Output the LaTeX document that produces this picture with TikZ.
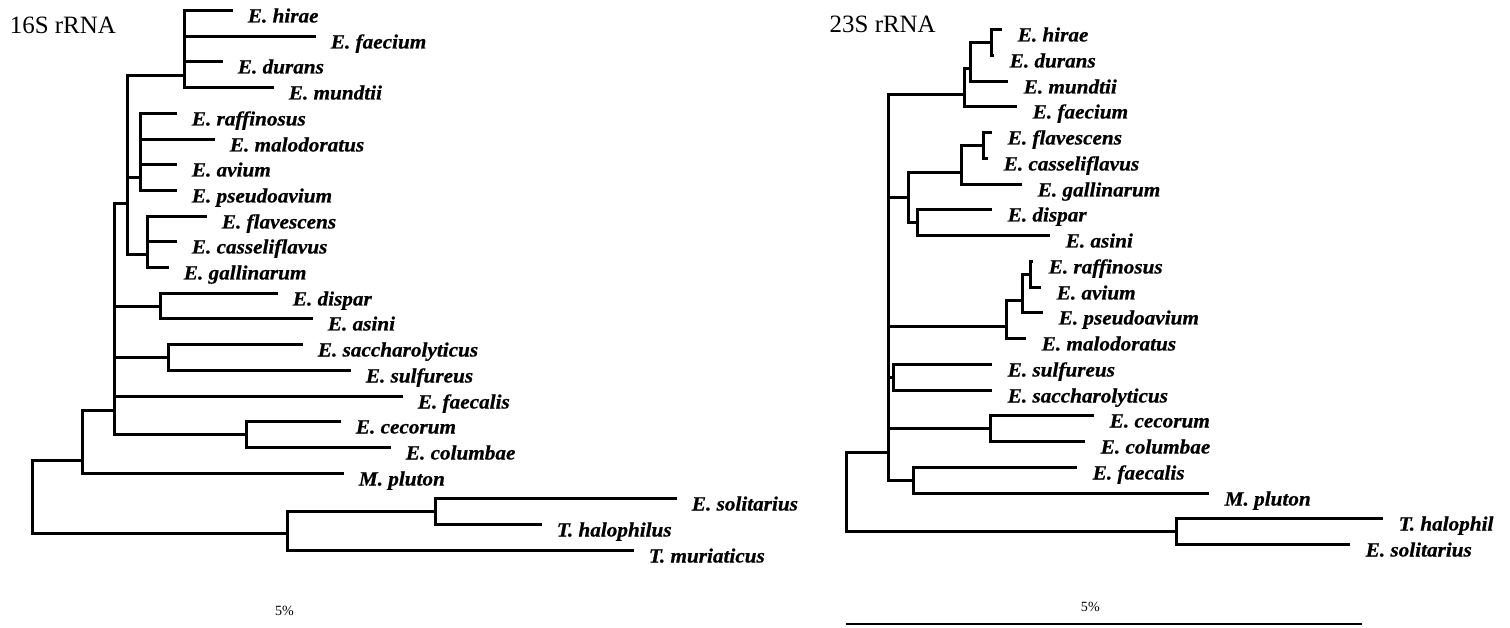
\documentclass[tikz,border=0pt]{standalone}
\usepackage{fontspec}
\setmainfont{Liberation Serif}
\newfontfamily\labfont[FakeStretch=1.05, FakeBold=0.6]{Liberation Serif}
\usetikzlibrary{positioning,calc}

\begin{document}
\begin{tikzpicture}[x=0.02cm, y=-0.02cm,
        branch/.style={line width=1.707pt},
        sp/.style={anchor=base west, inner sep=0pt, xshift=0.3cm, yshift=-0.24cm,
            font=\labfont\fontsize{11.5}{13}\selectfont\bfseries\itshape},
        ttl/.style={anchor=base west, inner sep=0pt, font=\fontsize{14.2}{16}\selectfont},
        scl/.style={inner sep=0pt, font=\fontsize{8}{9}\selectfont}]
    \useasboundingbox (0,0) rectangle (1510,628);

    \begin{scope}[shift={(0.5,0.5)}]
    % 16S tree
    \node[ttl] (ttl16) at (9,33) {16S rRNA};
    \foreach \n/\x/\y/\t in {hirae/232/10/{E. hirae}, faecium/315/36/{E. faecium},
            durans/222/61/{E. durans}, mundtii/273/87/{E. mundtii},
            raffinosus/176/113/{E. raffinosus}, malodoratus/214/139/{E. malodoratus},
            avium/176/164/{E. avium}, pseudoavium/176/190/{E. pseudoavium},
            flavescens/206/216/{E. flavescens}, casseliflavus/176/241/{E. casseliflavus},
            gallinarum/168/267/{E. gallinarum}, dispar/277/293/{E. dispar},
            asini/312/318/{E. asini}, sacch/302/344/{E. saccharolyticus},
            sulfureus/350/370/{E. sulfureus}, faecalis/402/396/{E. faecalis},
            cecorum/340/421/{E. cecorum}, columbae/390/447/{E. columbae},
            pluton/343/473/{M. pluton}, solitarius/676/498/{E. solitarius},
            halophilus/541/524/{T. halophilus}, muriaticus/633/550/{T. muriaticus}}{
        \coordinate (a-\n) at (\x,\y);
        \node[sp] (a-\n-txt) at (a-\n) {\t};
    }
    \coordinate (a0) at (32,497);
    \coordinate (a1) at (184,75);
    \coordinate (a2) at (140,177);
    \coordinate (a3) at (147,254);
    \coordinate (a4) at (127,203);
    \coordinate (a5) at (160,306);
    \coordinate (a6) at (168,357);
    \coordinate (a7) at (246,434);
    \coordinate (a8) at (114,410);
    \coordinate (a9) at (82,460);
    \coordinate (a10) at (435,511);
    \coordinate (a11) at (287,533);
    \draw[branch] (a1) |- (a-hirae) (a1) |- (a-faecium) (a1) |- (a-durans) (a1) |- (a-mundtii);
    \draw[branch] (a2) |- (a-raffinosus) (a2) |- (a-malodoratus) (a2) |- (a-avium) (a2) |- (a-pseudoavium);
    \draw[branch] (a3) |- (a-flavescens) (a3) |- (a-casseliflavus) (a3) |- (a-gallinarum);
    \draw[branch] (a4) |- (a1) (a4) |- (a2) (a4) |- (a3);
    \draw[branch] (a5) |- (a-dispar) (a5) |- (a-asini);
    \draw[branch] (a6) |- (a-sacch) (a6) |- (a-sulfureus);
    \draw[branch] (a7) |- (a-cecorum) (a7) |- (a-columbae);
    \draw[branch] (a8) |- (a4) (a8) |- (a5) (a8) |- (a6) (a8) |- (a-faecalis) (a8) |- (a7);
    \draw[branch] (a9) |- (a8) (a9) |- (a-pluton);
    \draw[branch] (a10) |- (a-solitarius) (a10) |- (a-halophilus);
    \draw[branch] (a11) |- (a10) (a11) |- (a-muriaticus);
    \draw[branch] (a0) |- (a9) (a0) |- (a11); % root
    \node[scl] (scl16) at (284,610) {5\%};
    \end{scope}

    % 23S tree
    \begin{scope}[xshift=16.6cm, shift={(0.5,0.5)}]
    \node[ttl] (ttl23) at (-1,32) {23S rRNA};
    \foreach \n/\x/\y/\t in {hirae/172/29/{E. hirae}, durans/164/55/{E. durans},
            mundtii/178/81/{E. mundtii}, faecium/187/106/{E. faecium},
            flavescens/162/132/{E. flavescens}, casseliflavus/158/158/{E. casseliflavus},
            gallinarum/192/184/{E. gallinarum}, dispar/162/209/{E. dispar},
            asini/220/235/{E. asini}, raffinosus/203/261/{E. raffinosus},
            avium/211/287/{E. avium}, pseudoavium/213/312/{E. pseudoavium},
            malodoratus/196/338/{E. malodoratus}, sulfureus/162/364/{E. sulfureus},
            sacch/162/390/{E. saccharolyticus}, cecorum/264/415/{E. cecorum},
            columbae/255/441/{E. columbae}, faecalis/247/467/{E. faecalis},
            pluton/379/493/{M. pluton}, halophil/553/518/{T. halophil},
            solitarius/520/544/{E. solitarius}}{
        \coordinate (b-\n) at (\x,\y);
        \node[sp] (b-\n-txt) at (b-\n) {\t};
    }
    \coordinate (b0) at (16,490);
    \coordinate (b1) at (161,42);
    \coordinate (b2) at (140,68);
    \coordinate (b3) at (134,94);
    \coordinate (b4) at (153,145);
    \coordinate (b5) at (131,172);
    \coordinate (b6) at (87,222);
    \coordinate (b7) at (78,197);
    \coordinate (b8) at (200,274);
    \coordinate (b9) at (192,300);
    \coordinate (b10) at (176,326);
    \coordinate (b11) at (63,377);
    \coordinate (b12) at (160,428);
    \coordinate (b13) at (83,480);
    \coordinate (b14) at (58,452);
    \coordinate (b15) at (346,531);
    \draw[branch] (b1) |- (b-hirae) (b1) |- (b-durans);
    \draw[branch] (b2) |- (b1) (b2) |- (b-mundtii);
    \draw[branch] (b3) |- (b2) (b3) |- (b-faecium);
    \draw[branch] (b4) |- (b-flavescens) (b4) |- (b-casseliflavus);
    \draw[branch] (b5) |- (b4) (b5) |- (b-gallinarum);
    \draw[branch] (b6) |- (b-dispar) (b6) |- (b-asini);
    \draw[branch] (b7) |- (b5) (b7) |- (b6);
    \draw[branch] (b8) |- (b-raffinosus) (b8) |- (b-avium);
    \draw[branch] (b9) |- (b8) (b9) |- (b-pseudoavium);
    \draw[branch] (b10) |- (b9) (b10) |- (b-malodoratus);
    \draw[branch] (b11) |- (b-sulfureus) (b11) |- (b-sacch);
    \draw[branch] (b12) |- (b-cecorum) (b12) |- (b-columbae);
    \draw[branch] (b13) |- (b-faecalis) (b13) |- (b-pluton);
    \draw[branch] (b14) |- (b3) (b14) |- (b7) (b14) |- (b10) (b14) |- (b11) (b14) |- (b12) (b14) |- (b13);
    \draw[branch] (b15) |- (b-halophil) (b15) |- (b-solitarius);
    \draw[branch] (b0) |- (b14) (b0) |- (b15); % root
    \coordinate (bar-l) at (16,623);
    \coordinate (bar-r) at (532,623);
    \draw[line width=1.138pt] (bar-l) -- (bar-r);
    \node[scl] (scl23) at (260,606) {5\%};
    \end{scope}
\end{tikzpicture}
\end{document}
